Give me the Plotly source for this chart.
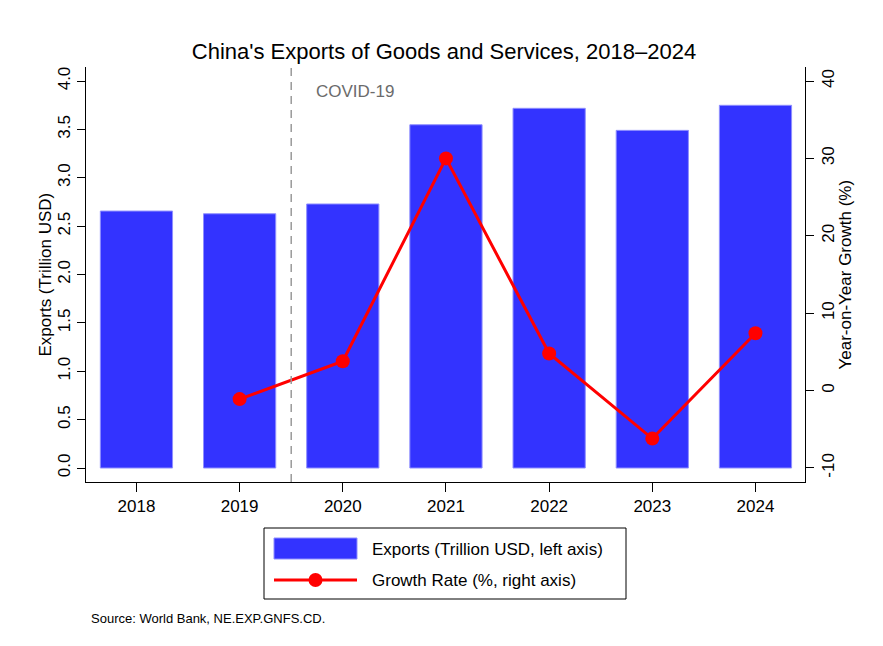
import plotly.graph_objects as go

# Data: China exports of goods and services (World Bank NE.EXP.GNFS.CD)
years = [2018, 2019, 2020, 2021, 2022, 2023, 2024]
exports_trn = [2.656, 2.628, 2.729, 3.548, 3.718, 3.490, 3.749]
growth_years = [2019, 2020, 2021, 2022, 2023, 2024]
growth_pct = [-1.1, 3.8, 30.0, 4.8, -6.2, 7.4]
left_ticks = [0.0, 0.5, 1.0, 1.5, 2.0, 2.5, 3.0, 3.5, 4.0]
right_ticks = [-10, 0, 10, 20, 30, 40]
covid_break = 2019.5

W, H = 883, 646
ML, MR, MT, MB = 86, 78, 67, 164
PW, PH = W - ML - MR, H - MT - MB

FONT = "Arial, Liberation Sans, sans-serif"
BAR_BLUE = "#3333ff"
BAR_EDGE = "#8f8fff"
RED = "#ff0000"


def px(x):
    return (x - ML) / PW


def py(y):
    return (H - MB - y) / PH


fig = go.Figure()

fig.add_trace(go.Bar(
    x=years, y=exports_trn, width=0.7,
    marker=dict(color=BAR_BLUE, line=dict(color=BAR_EDGE, width=1)),
    name="Exports (Trillion USD, left axis)", showlegend=False,
    yaxis="y",
))

fig.add_trace(go.Scatter(
    x=growth_years, y=growth_pct, mode="lines+markers",
    line=dict(color=RED, width=3),
    marker=dict(color=RED, size=14),
    name="Growth Rate (%, right axis)", showlegend=False,
    yaxis="y2",
))

annotations = [
    dict(x=covid_break, xref="x", xshift=23, y=py(92), yref="paper",
         text="COVID-19", showarrow=False, xanchor="left", yanchor="middle",
         font=dict(family=FONT, size=17, color="#6b6b6b")),
    dict(x=px(45), y=py(274.5), xref="paper", yref="paper",
         text="Exports (Trillion USD)", textangle=-90, showarrow=False,
         xanchor="center", yanchor="middle",
         font=dict(family=FONT, size=17, color="black")),
    dict(x=px(845), y=py(274.5), xref="paper", yref="paper",
         text="Year-on-Year Growth (%)", textangle=-90, showarrow=False,
         xanchor="center", yanchor="middle",
         font=dict(family=FONT, size=17, color="black")),
    dict(x=px(89), y=py(618), xref="paper", yref="paper",
         text="Source: World Bank, NE.EXP.GNFS.CD.", showarrow=False,
         xanchor="left", yanchor="middle",
         font=dict(family=FONT, size=13, color="black")),
    # legend entries
    dict(x=px(370), y=py(549), xref="paper", yref="paper",
         text="Exports (Trillion USD, left axis)", showarrow=False,
         xanchor="left", yanchor="middle",
         font=dict(family=FONT, size=17, color="black")),
    dict(x=px(370), y=py(580), xref="paper", yref="paper",
         text="Growth Rate (%, right axis)", showarrow=False,
         xanchor="left", yanchor="middle",
         font=dict(family=FONT, size=17, color="black")),
]

shapes = [
    # COVID-19 break line
    dict(type="line", xref="x", yref="paper",
         x0=covid_break, x1=covid_break, y0=0, y1=1,
         line=dict(color="#9a9a9a", width=1.5, dash="8px,6px"), layer="above"),
    # legend frame
    dict(type="rect", xref="paper", yref="paper",
         x0=px(264), x1=px(626), y0=py(528), y1=py(599),
         line=dict(color="black", width=1), fillcolor="rgba(0,0,0,0)",
         layer="above"),
    # bar swatch
    dict(type="rect", xref="paper", yref="paper",
         x0=px(274), x1=px(357), y0=py(538), y1=py(559),
         line=dict(color=BAR_EDGE, width=1), fillcolor=BAR_BLUE, layer="above"),
    # line swatch
    dict(type="line", xref="paper", yref="paper",
         x0=px(274), x1=px(357), y0=py(580), y1=py(580),
         line=dict(color=RED, width=3), layer="above"),
    dict(type="circle", xref="paper", yref="paper",
         x0=px(308.5), x1=px(322.5), y0=py(573), y1=py(587),
         line=dict(color=RED, width=0), fillcolor=RED, layer="above"),
]

fig.update_layout(
    width=W, height=H,
    margin=dict(l=ML, r=MR, t=MT, b=MB, pad=0),
    paper_bgcolor="white", plot_bgcolor="white",
    showlegend=False,
    font=dict(family=FONT, size=16, color="black"),
    title=dict(text="China's Exports of Goods and Services, 2018\u20132024",
               x=444 / W, xref="container", xanchor="center",
               y=1 - 51 / H, yref="container", yanchor="middle",
               font=dict(family=FONT, size=22, color="black")),
    xaxis=dict(
        range=[2017.511, 2024.48], tickmode="array", tickvals=years,
        ticktext=[str(y) for y in years],
        showline=True, linecolor="black", linewidth=1,
        ticks="outside", ticklen=9, tickcolor="black",
        showgrid=False, zeroline=False,
        tickfont=dict(family=FONT, size=17),
    ),
    yaxis=dict(
        range=[-0.1447, 4.145], tickmode="array", tickvals=left_ticks,
        ticktext=[f"{v:.1f}" for v in left_ticks], tickangle=-90,
        showline=True, linecolor="black", linewidth=1,
        ticks="outside", ticklen=8, tickcolor="black",
        showgrid=False, zeroline=False,
        tickfont=dict(family=FONT, size=17),
    ),
    yaxis2=dict(
        range=[-11.81, 41.81], tickmode="array", tickvals=right_ticks,
        ticktext=[str(v) for v in right_ticks], tickangle=-90,
        overlaying="y", side="right",
        showline=True, linecolor="black", linewidth=1,
        ticks="outside", ticklen=8, tickcolor="black",
        showgrid=False, zeroline=False,
        tickfont=dict(family=FONT, size=17),
    ),
    annotations=annotations,
    shapes=shapes,
)

fig.write_html("out.html")
